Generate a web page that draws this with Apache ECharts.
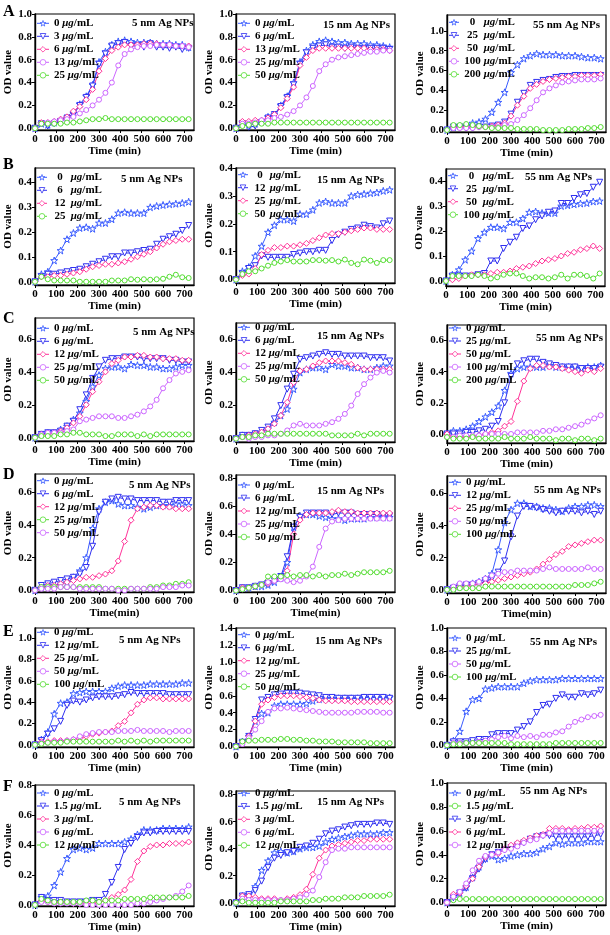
<!DOCTYPE html>
<html><head><meta charset="utf-8">
<script src="https://cdn.jsdelivr.net/npm/echarts@6/dist/echarts.min.js"></script>
<style>html,body{margin:0;padding:0;background:#fff}#c{width:610px;height:935px}</style>
</head><body><div id="c"></div>
<script>
const TIME = [0,30,60,90,120,150,180,210,240,270,300,330,360,390,420,450,480,510,540,570,600,630,660,690,720];
const X_TICKS = [0,100,200,300,400,500,600,700];
const Y_T10 = [0,0.2,0.4,0.6,0.8,1.0];
const Y_T04 = [0,0.1,0.2,0.3,0.4];
const Y_T06 = [0,0.2,0.4,0.6];
const Y_T08 = [0,0.2,0.4,0.6,0.8];
const Y_T14 = [0,0.2,0.4,0.6,0.8,1.0,1.2,1.4];

const A1_0 = [0,0.04,0.03,0.05,0.07,0.09,0.13,0.21,0.28,0.38,0.58,0.67,0.73,0.76,0.77,0.76,0.75,0.75,0.75,0.74,0.74,0.74,0.73,0.73,0.71];
const A1_3 = [0,0.04,0.02,0.04,0.06,0.09,0.12,0.2,0.27,0.37,0.56,0.65,0.72,0.74,0.75,0.72,0.72,0.71,0.74,0.71,0.71,0.7,0.71,0.69,0.7];
const A1_6 = [0,0.05,0.05,0.06,0.08,0.1,0.15,0.19,0.25,0.34,0.5,0.61,0.68,0.71,0.73,0.73,0.73,0.74,0.74,0.74,0.73,0.73,0.72,0.72,0.72];
const A1_13 = [0,0.04,0.05,0.06,0.07,0.08,0.1,0.13,0.16,0.2,0.25,0.31,0.4,0.55,0.65,0.69,0.71,0.72,0.72,0.73,0.73,0.73,0.72,0.72,0.71];
const A1_25 = [0,0.04,0.04,0.04,0.04,0.05,0.05,0.06,0.07,0.08,0.08,0.09,0.08,0.08,0.08,0.08,0.08,0.08,0.08,0.08,0.08,0.08,0.08,0.08,0.08];

const A2_0 = [0,0.05,0.03,0.04,0.06,0.1,0.12,0.2,0.28,0.4,0.58,0.68,0.73,0.76,0.77,0.76,0.75,0.75,0.74,0.74,0.74,0.73,0.73,0.72,0.71];
const A2_6 = [0,0.04,0.01,0.02,0.05,0.09,0.12,0.19,0.27,0.38,0.56,0.66,0.7,0.72,0.73,0.71,0.71,0.7,0.71,0.7,0.7,0.7,0.7,0.7,0.69];
const A2_13 = [0,0.06,0.06,0.07,0.07,0.09,0.12,0.18,0.26,0.36,0.55,0.62,0.68,0.7,0.7,0.7,0.7,0.7,0.7,0.7,0.7,0.69,0.69,0.69,0.68];
const A2_25 = [0,0.04,0.04,0.05,0.07,0.07,0.09,0.1,0.12,0.15,0.2,0.27,0.37,0.5,0.56,0.6,0.62,0.63,0.64,0.65,0.66,0.67,0.67,0.68,0.68];
const A2_50 = [0,0.02,0.03,0.04,0.04,0.04,0.05,0.05,0.05,0.05,0.05,0.05,0.05,0.05,0.05,0.05,0.05,0.05,0.05,0.05,0.05,0.05,0.05,0.05,0.05];

const A3_0 = [0,0.03,0.04,0.05,0.07,0.08,0.11,0.18,0.28,0.38,0.58,0.66,0.72,0.75,0.77,0.76,0.76,0.76,0.75,0.75,0.75,0.74,0.73,0.73,0.72];
const A3_25 = [0,0.03,0.03,0.02,0.02,0.03,0.03,0.04,0.05,0.08,0.16,0.28,0.37,0.45,0.48,0.5,0.51,0.53,0.54,0.54,0.55,0.55,0.55,0.55,0.55];
const A3_50 = [0,0.03,0.03,0.03,0.03,0.03,0.03,0.04,0.05,0.07,0.14,0.25,0.34,0.42,0.46,0.49,0.51,0.52,0.53,0.54,0.54,0.55,0.55,0.55,0.56];
const A3_100 = [0,0.02,0.02,0.02,0.02,0.03,0.03,0.03,0.03,0.05,0.06,0.1,0.15,0.22,0.3,0.38,0.42,0.45,0.48,0.49,0.5,0.51,0.51,0.51,0.52];
const A3_200 = [0,0.05,0.05,0.06,0.05,0.04,0.03,0.02,0.02,0.02,0.02,0.01,0.01,0.01,0.01,0,0,0,0,0.01,0.01,0.01,0.02,0.02,0.03];

const B1_0 = [0,0.03,0.04,0.085,0.125,0.17,0.195,0.215,0.218,0.212,0.235,0.235,0.25,0.275,0.278,0.275,0.275,0.275,0.298,0.303,0.307,0.31,0.312,0.315,0.32];
const B1_6 = [0,0.02,0.03,0.03,0.035,0.04,0.045,0.05,0.06,0.07,0.08,0.09,0.1,0.1,0.115,0.115,0.12,0.125,0.13,0.15,0.17,0.18,0.19,0.205,0.225];
const B1_12 = [0,0.02,0.02,0.025,0.025,0.03,0.035,0.04,0.05,0.06,0.065,0.07,0.07,0.075,0.08,0.09,0.1,0.11,0.12,0.135,0.15,0.16,0.165,0.17,0.17];
const B1_25 = [0,0.02,0.01,0.005,0.005,0.005,0.005,0,0,0,0,0,0.005,0.005,0.005,0.01,0.008,0.01,0.008,0.01,0.012,0.02,0.028,0.018,0.015];

const B2_0 = [0,0.03,0.045,0.085,0.12,0.17,0.195,0.215,0.215,0.21,0.235,0.235,0.25,0.275,0.28,0.275,0.275,0.275,0.3,0.305,0.307,0.31,0.312,0.318,0.322];
const B2_12 = [0,0.02,0.04,0.05,0.085,0.08,0.08,0.08,0.08,0.09,0.095,0.1,0.1,0.105,0.105,0.14,0.16,0.17,0.18,0.185,0.195,0.19,0.185,0.2,0.21];
const B2_25 = [0,0.015,0.02,0.04,0.09,0.105,0.115,0.115,0.12,0.12,0.125,0.13,0.14,0.15,0.16,0.165,0.165,0.17,0.175,0.18,0.185,0.185,0.18,0.18,0.18];
const B2_50 = [0,0.02,0.03,0.03,0.04,0.05,0.06,0.065,0.07,0.065,0.065,0.065,0.07,0.07,0.068,0.07,0.065,0.072,0.06,0.055,0.072,0.068,0.06,0.07,0.07];

const B3_0 = [0,0.025,0.045,0.085,0.12,0.17,0.195,0.215,0.215,0.21,0.235,0.235,0.25,0.275,0.278,0.272,0.272,0.272,0.3,0.303,0.307,0.31,0.312,0.318,0.32];
const B3_25 = [0,0.02,0.02,0.02,0.02,0.025,0.03,0.08,0.08,0.13,0.155,0.175,0.21,0.22,0.245,0.26,0.275,0.28,0.31,0.31,0.33,0.345,0.35,0.375,0.395];
const B3_50 = [0,0.005,0.01,0.02,0.025,0.025,0.025,0.03,0.035,0.035,0.04,0.05,0.055,0.06,0.07,0.08,0.085,0.09,0.1,0.11,0.115,0.125,0.13,0.14,0.13];
const B3_100 = [0,0.02,0.02,0.02,0.02,0.025,0.02,0.01,0.015,0.025,0.03,0.03,0.02,0.01,0.015,0.015,0.01,0.015,0.025,0.01,0.025,0.025,0.02,0.01,0.03];

const C1_0 = [0,0.02,0.03,0.03,0.05,0.07,0.11,0.15,0.22,0.31,0.38,0.42,0.43,0.43,0.42,0.445,0.44,0.44,0.43,0.43,0.42,0.42,0.43,0.44,0.44];
const C1_6 = [0,0.02,0.03,0.03,0.04,0.07,0.1,0.17,0.26,0.36,0.43,0.47,0.48,0.48,0.49,0.49,0.49,0.48,0.48,0.48,0.48,0.47,0.47,0.46,0.46];
const C1_12 = [0,0.02,0.02,0.03,0.04,0.06,0.09,0.13,0.2,0.28,0.34,0.4,0.45,0.47,0.49,0.49,0.5,0.5,0.49,0.49,0.48,0.48,0.48,0.47,0.47];
const C1_25 = [0,0.02,0.03,0.03,0.03,0.04,0.05,0.1,0.11,0.12,0.13,0.13,0.13,0.12,0.12,0.13,0.14,0.16,0.19,0.23,0.3,0.35,0.39,0.4,0.41];
const C1_50 = [0,0.01,0.01,0.01,0.02,0.02,0.03,0.03,0.02,0.02,0.02,0.01,0.01,0.02,0.02,0.02,0.01,0.02,0.01,0.02,0.02,0.02,0.02,0.02,0.02];

const C2_0 = [0,0.02,0.02,0.03,0.04,0.06,0.1,0.14,0.18,0.3,0.4,0.42,0.43,0.43,0.42,0.45,0.44,0.44,0.43,0.43,0.42,0.42,0.43,0.44,0.44];
const C2_6 = [0,0.02,0.02,0.03,0.05,0.07,0.12,0.2,0.3,0.39,0.48,0.49,0.5,0.51,0.52,0.51,0.51,0.5,0.5,0.5,0.5,0.49,0.49,0.49,0.47];
const C2_12 = [0,0.01,0.02,0.03,0.04,0.06,0.09,0.14,0.22,0.34,0.41,0.42,0.44,0.46,0.47,0.47,0.47,0.46,0.45,0.43,0.42,0.42,0.42,0.42,0.42];
const C2_25 = [0,0.01,0,0.01,0.01,0.02,0.02,0.03,0.05,0.08,0.09,0.08,0.08,0.08,0.09,0.1,0.12,0.15,0.2,0.27,0.33,0.37,0.4,0.41,0.4];
const C2_50 = [0,0.01,0.01,0.02,0.02,0.03,0.03,0.03,0.03,0.03,0.03,0.03,0.03,0.03,0.03,0.02,0.02,0.02,0.02,0.03,0.02,0.03,0.03,0.03,0.03];

const C3_0 = [0,0.02,0.02,0.03,0.05,0.08,0.11,0.14,0.18,0.28,0.39,0.42,0.43,0.43,0.43,0.43,0.44,0.43,0.43,0.43,0.43,0.42,0.43,0.43,0.44];
const C3_25 = [0,0,0,0.01,0.01,0.02,0.03,0.05,0.08,0.2,0.37,0.45,0.47,0.48,0.48,0.46,0.45,0.44,0.43,0.43,0.43,0.42,0.42,0.42,0.43];
const C3_50 = [0,-0.02,-0.02,-0.02,-0.015,-0.01,0,0.01,0.02,0.05,0.08,0.21,0.34,0.42,0.44,0.44,0.43,0.43,0.42,0.41,0.4,0.39,0.41,0.4,0.42];
const C3_100 = [-0.02,-0.02,-0.01,-0.01,-0.01,-0.01,0,0,0,0,0,0.01,0.01,0.01,0.01,0.02,0.02,0.03,0.03,0.04,0.05,0.06,0.08,0.1,0.12];
const C3_200 = [-0.02,-0.03,-0.03,-0.03,-0.02,-0.03,-0.03,-0.03,-0.03,-0.02,-0.03,-0.03,-0.03,-0.02,-0.03,-0.03,-0.03,-0.04,-0.03,-0.03,-0.04,-0.03,-0.03,-0.04,-0.03];

const D1_0 = [0,0.02,0.03,0.03,0.04,0.05,0.08,0.12,0.2,0.38,0.5,0.54,0.55,0.53,0.52,0.52,0.51,0.5,0.51,0.52,0.52,0.52,0.53,0.53,0.52];
const D1_6 = [0,0.03,0.04,0.05,0.06,0.07,0.08,0.1,0.14,0.27,0.48,0.54,0.56,0.57,0.56,0.56,0.55,0.55,0.55,0.55,0.54,0.54,0.55,0.55,0.55];
const D1_12 = [0,0.02,0.03,0.03,0.04,0.05,0.06,0.07,0.08,0.08,0.09,0.1,0.12,0.18,0.3,0.43,0.5,0.51,0.52,0.52,0.51,0.51,0.5,0.5,0.5];
const D1_25 = [0,0.02,0.02,0.02,0.02,0.02,0.02,0.02,0.02,0.02,0.02,0.01,0.01,0.01,0.01,0.01,0.01,0.01,0.02,0.02,0.03,0.03,0.04,0.04,0.05];
const D1_50 = [0,0.01,0.01,0.01,0.02,0.02,0.02,0.01,0.01,0.01,0.01,0.01,0.01,0,0,0.01,0.01,0.01,0.01,0.01,0.02,0.02,0.02,0.03,0.03];

const D2_0 = [0,0.02,0.02,0.03,0.03,0.04,0.06,0.09,0.2,0.45,0.53,0.54,0.54,0.53,0.52,0.51,0.51,0.5,0.51,0.51,0.51,0.52,0.52,0.52,0.52];
const D2_6 = [0,0.02,0.02,0.03,0.04,0.05,0.07,0.1,0.24,0.45,0.52,0.55,0.55,0.55,0.55,0.54,0.55,0.55,0.55,0.54,0.54,0.54,0.54,0.53,0.53];
const D2_12 = [0,0.02,0.02,0.03,0.04,0.05,0.07,0.09,0.14,0.4,0.5,0.54,0.55,0.55,0.55,0.56,0.57,0.56,0.56,0.55,0.55,0.55,0.55,0.55,0.55];
const D2_25 = [0,0.01,0.02,0.03,0.04,0.06,0.07,0.08,0.07,0.06,0.07,0.1,0.17,0.31,0.44,0.49,0.5,0.51,0.51,0.51,0.51,0.51,0.51,0.51,0.51];
const D2_50 = [0,0.01,0.02,0.03,0.04,0.1,0.1,0.1,0.11,0.1,0.11,0.11,0.1,0.11,0.1,0.11,0.11,0.12,0.11,0.12,0.13,0.13,0.13,0.13,0.14];

const D3_0 = [0,0.01,0.02,0.03,0.04,0.05,0.07,0.1,0.25,0.42,0.5,0.54,0.54,0.52,0.52,0.51,0.51,0.5,0.49,0.51,0.52,0.52,0.53,0.53,0.52];
const D3_12 = [0,0.01,0.02,0.03,0.03,0.04,0.05,0.07,0.11,0.18,0.33,0.46,0.52,0.52,0.51,0.5,0.49,0.48,0.49,0.49,0.49,0.48,0.49,0.47,0.49];
const D3_25 = [0,0.01,0.02,0.02,0.03,0.04,0.04,0.05,0.06,0.07,0.08,0.09,0.1,0.11,0.13,0.16,0.19,0.22,0.24,0.27,0.28,0.29,0.3,0.31,0.31];
const D3_50 = [0,0.02,0.04,0.04,0.04,0.05,0.07,0.09,0.1,0.11,0.11,0.12,0.12,0.12,0.12,0.13,0.14,0.13,0.13,0.13,0.13,0.13,0.14,0.13,0.13];
const D3_100 = [0,0,0.01,0.01,0.01,0.01,0.02,0.02,0.02,0.02,0.02,0.02,0.02,0.02,0.02,0.02,0.02,0.02,0.02,0.02,0.03,0.03,0.03,0.04,0.05];

const E1_0 = [0,0.05,0.12,0.29,0.39,0.4,0.48,0.49,0.5,0.5,0.5,0.5,0.53,0.55,0.56,0.56,0.56,0.56,0.57,0.57,0.57,0.57,0.57,0.58,0.58];
const E1_12 = [0,0.04,0.1,0.15,0.22,0.37,0.41,0.4,0.42,0.44,0.45,0.45,0.45,0.46,0.47,0.49,0.48,0.48,0.48,0.48,0.48,0.47,0.47,0.47,0.47];
const E1_25 = [0,0.03,0.03,0.04,0.04,0.04,0.05,0.06,0.08,0.1,0.11,0.12,0.13,0.18,0.22,0.3,0.38,0.42,0.44,0.44,0.43,0.43,0.43,0.43,0.43];
const E1_50 = [0,0.02,0.02,0.03,0.03,0.04,0.05,0.08,0.1,0.11,0.12,0.12,0.12,0.13,0.13,0.13,0.14,0.13,0.13,0.13,0.13,0.12,0.13,0.13,0.13];
const E1_100 = [0,0.01,0.02,0.02,0.02,0.03,0.03,0.03,0.03,0.03,0.03,0.03,0.03,0.04,0.03,0.04,0.03,0.04,0.03,0.04,0.04,0.04,0.04,0.04,0.04];

const E2_0 = [0,0.06,0.12,0.3,0.39,0.4,0.48,0.5,0.5,0.5,0.5,0.51,0.54,0.56,0.57,0.57,0.57,0.57,0.57,0.57,0.58,0.58,0.58,0.58,0.58];
const E2_6 = [0,0.05,0.12,0.32,0.55,0.58,0.61,0.62,0.63,0.63,0.63,0.62,0.61,0.6,0.58,0.58,0.57,0.57,0.57,0.57,0.58,0.58,0.58,0.58,0.57];
const E2_12 = [0,0.05,0.12,0.3,0.5,0.55,0.58,0.6,0.6,0.6,0.59,0.58,0.57,0.55,0.54,0.54,0.54,0.54,0.53,0.53,0.53,0.53,0.53,0.53,0.53];
const E2_25 = [0,0.03,0.1,0.2,0.3,0.41,0.45,0.45,0.46,0.45,0.44,0.43,0.42,0.41,0.4,0.4,0.4,0.4,0.4,0.41,0.41,0.41,0.41,0.4,0.4];
const E2_50 = [0,0.06,0.07,0.07,0.08,0.08,0.08,0.09,0.09,0.08,0.08,0.07,0.07,0.06,0.06,0.06,0.05,0.05,0.05,0.05,0.05,0.04,0.04,0.04,0.04];

const E3_0 = [0,0.04,0.12,0.29,0.39,0.4,0.48,0.49,0.5,0.5,0.5,0.5,0.53,0.55,0.56,0.56,0.56,0.56,0.57,0.57,0.57,0.57,0.57,0.57,0.57];
const E3_25 = [0,0.03,0.03,0.03,0.04,0.05,0.05,0.09,0.1,0.1,0.1,0.13,0.16,0.2,0.28,0.34,0.35,0.4,0.43,0.41,0.41,0.44,0.43,0.44,0.47];
const E3_50 = [0,0.02,0.02,0.02,0.02,0.03,0.04,0.05,0.07,0.08,0.06,0.08,0.07,0.08,0.07,0.09,0.09,0.11,0.12,0.16,0.2,0.22,0.24,0.25,0.26];
const E3_100 = [0,0.01,0.01,0.02,0.02,0.02,0.02,0.02,0.02,0.02,0.01,0.01,0.01,0.01,0.01,0.01,0.01,0.02,0.02,0.02,0.02,0.02,0.02,0.02,0.02];

const F1_0 = [0,0.05,0.06,0.13,0.22,0.31,0.37,0.38,0.37,0.38,0.41,0.41,0.41,0.41,0.42,0.44,0.47,0.5,0.5,0.5,0.51,0.51,0.51,0.51,0.52];
const F1_1 = [0,0.05,0.03,0.03,0.03,0.02,0.02,0.02,0.02,0.03,0.03,0.07,0.15,0.25,0.37,0.41,0.45,0.48,0.48,0.49,0.49,0.49,0.49,0.49,0.49];
const F1_3 = [0,0.03,0.02,0.02,0.02,0.02,0.01,0.01,0.01,0.01,0.02,0.03,0.05,0.07,0.1,0.17,0.29,0.36,0.39,0.4,0.4,0.41,0.41,0.41,0.42];
const F1_6 = [0,0.02,0.02,0.01,0.01,0.01,0.01,0.01,0,0,0,0,0,0,0,0,0.01,0.01,0.02,0.03,0.04,0.05,0.06,0.09,0.13];
const F1_12 = [0,0.04,0.03,0.02,0.02,0.02,0.02,0.02,0.03,0.03,0.02,0.03,0.03,0.03,0.04,0.04,0.04,0.04,0.05,0.05,0.05,0.05,0.05,0.05,0.06];

const F2_0 = [0,0.05,0.06,0.12,0.24,0.31,0.37,0.38,0.37,0.38,0.4,0.41,0.41,0.42,0.45,0.47,0.48,0.49,0.5,0.51,0.51,0.51,0.51,0.52,0.52];
const F2_1 = [0,0.05,0.06,0.09,0.16,0.26,0.33,0.35,0.37,0.38,0.41,0.42,0.44,0.47,0.51,0.53,0.54,0.56,0.57,0.58,0.58,0.58,0.59,0.59,0.58];
const F2_3 = [0,0.05,0.05,0.04,0.03,0.03,0.03,0.02,0.03,0.04,0.06,0.1,0.21,0.33,0.39,0.42,0.43,0.44,0.45,0.46,0.46,0.47,0.47,0.47,0.47];
const F2_6 = [0,0.03,0.02,0.02,0.02,0.02,0.02,0.02,0.02,0.03,0.04,0.06,0.09,0.19,0.3,0.39,0.4,0.4,0.41,0.41,0.41,0.41,0.41,0.41,0.41];
const F2_12 = [0,0.01,0,0,0,0,0,0.01,0.01,0.01,0.01,0.01,0.02,0.02,0.03,0.03,0.03,0.04,0.04,0.04,0.05,0.05,0.05,0.05,0.06];

const F3_0 = [0,0.04,0.08,0.13,0.21,0.3,0.37,0.39,0.36,0.37,0.39,0.4,0.41,0.41,0.42,0.45,0.47,0.5,0.49,0.5,0.5,0.5,0.51,0.51,0.51];
const F3_1 = [0,0.02,0.03,0.03,0.03,0.03,0.03,0.03,0.03,0.03,0.03,0.03,0.03,0.03,0.03,0.03,0.03,0.03,0.03,0.03,0.03,0.03,0.03,0.03,0.03];
const F3_3 = [0,0.04,0.08,0.12,0.2,0.28,0.36,0.4,0.42,0.44,0.46,0.48,0.5,0.53,0.55,0.56,0.56,0.55,0.55,0.55,0.55,0.55,0.55,0.56,0.57];
const F3_6 = [0,0.07,0.08,0.14,0.2,0.3,0.38,0.4,0.41,0.45,0.48,0.5,0.52,0.54,0.56,0.57,0.62,0.62,0.62,0.61,0.62,0.62,0.63,0.63,0.64];
const F3_12 = [0,0.05,0.09,0.16,0.27,0.35,0.39,0.4,0.42,0.44,0.45,0.47,0.5,0.52,0.53,0.56,0.58,0.6,0.6,0.6,0.6,0.6,0.6,0.6,0.6];

const FONT = '"Liberation Serif","Times New Roman",serif';
const STAR = 'path://M50,2 L61,36 L97,36 L68,57 L79,92 L50,71 L21,92 L32,57 L3,36 L39,36 Z';
const STYLES = {
  star: {color:'#3a5cff', symbol:STAR, size:7, rotate:0},
  tri:  {color:'#3030f0', symbol:'triangle', size:6, rotate:180},
  dia:  {color:'#ff3399', symbol:'diamond', size:6, rotate:0},
  vio:  {color:'#cc66ff', symbol:'circle', size:5, rotate:0},
  grn:  {color:'#55dd33', symbol:'circle', size:5, rotate:0}
};
const T = 'Time (min)', T2 = 'Time(min)';
// rect = [left, top, right, bottom]; tp = title [x, centerY]; lt = first legend item centerY; nw = number column width
const PANELS = [
 {key:'A1', rect:[35,14,194,130], y:[-0.015,1.0], ticks:Y_T10, title:'5 nm Ag NPs', tp:[132,24.5], lt:24.3, nw:0, xn:T,
  items:[['0','star',A1_0],['3','tri',A1_3],['6','dia',A1_6],['13','vio',A1_13],['25','grn',A1_25]]},
 {key:'A2', rect:[236,14,395,130], y:[-0.015,1.0], ticks:Y_T10, title:'15 nm Ag NPs', tp:[323,26.5], lt:24.3, nw:0, xn:T,
  items:[['0','star',A2_0],['6','tri',A2_6],['13','dia',A2_13],['25','vio',A2_25],['50','grn',A2_50]]},
 {key:'A3', rect:[447,15,606,132], y:[-0.02,1.16], ticks:Y_T10, title:'55 nm Ag NPs', tp:[533,26.5], lt:23.3, nw:17, xn:T,
  items:[['0','star',A3_0],['25','tri',A3_25],['50','dia',A3_50],['100','vio',A3_100],['200','grn',A3_200]]},
 {key:'B1', rect:[35,168,194,285], y:[-0.013,0.455], ticks:Y_T04, title:'5 nm Ag NPs', tp:[121,180], lt:178.3, nw:16, xn:T,
  items:[['0','star',B1_0],['6','tri',B1_6],['12','dia',B1_12],['25','grn',B1_25]]},
 {key:'B2', rect:[236,168,395,283], y:[-0.012,0.4], ticks:Y_T04, title:'15 nm Ag NPs', tp:[317,181], lt:175.7, nw:14, xn:T,
  items:[['0','star',B2_0],['12','tri',B2_12],['25','dia',B2_25],['50','grn',B2_50]]},
 {key:'B3', rect:[446,169,605,286], y:[-0.02,0.448], ticks:Y_T04, title:'55 nm Ag NPs', tp:[525,178.3], lt:176.7, nw:17, xn:T,
  items:[['0','star',B3_0],['25','tri',B3_25],['50','dia',B3_50],['100','grn',B3_100]]},
 {key:'C1', rect:[35,318,194,441], y:[-0.02,0.727], ticks:Y_T06, title:'5 nm Ag NPs', tp:[133,333.3], lt:329.3, nw:0, xn:T,
  items:[['0','star',C1_0],['6','tri',C1_6],['12','dia',C1_12],['25','vio',C1_25],['50','grn',C1_50]]},
 {key:'C2', rect:[236,323,395,442], y:[-0.02,0.70], ticks:Y_T06, title:'15 nm Ag NPs', tp:[317,337], lt:328.3, nw:0, xn:T,
  items:[['0','star',C2_0],['6','tri',C2_6],['12','dia',C2_12],['25','vio',C2_25],['50','grn',C2_50]]},
 {key:'C3', rect:[447,325,606,443], y:[-0.058,0.70], ticks:Y_T06, title:'55 nm Ag NPs', tp:[536,339], lt:329, nw:0, xn:T,
  items:[['0','star',C3_0],['25','tri',C3_25],['50','dia',C3_50],['100','vio',C3_100],['200','grn',C3_200]]},
 {key:'D1', rect:[35,474,194,592], y:[-0.01,0.713], ticks:Y_T06, title:'5 nm Ag NPs', tp:[129,486], lt:481.7, nw:0, xn:T2,
  items:[['0','star',D1_0],['6','tri',D1_6],['12','dia',D1_12],['25','grn',D1_25],['50','vio',D1_50]]},
 {key:'D2', rect:[236,475,395,592], y:[-0.01,0.82], ticks:Y_T08, title:'15 nm Ag NPs', tp:[317,492], lt:486, nw:0, xn:T2,
  items:[['0','star',D2_0],['6','tri',D2_6],['12','dia',D2_12],['25','vio',D2_25],['50','grn',D2_50]]},
 {key:'D3', rect:[447,476,606,593], y:[-0.02,0.71], ticks:Y_T06, title:'55 nm Ag NPs', tp:[534,491], lt:483.3, nw:0, xn:T2,
  items:[['0','star',D3_0],['12','tri',D3_12],['25','dia',D3_25],['50','vio',D3_50],['100','grn',D3_100]]},
 {key:'E1', rect:[35,628,194,747], y:[-0.02,1.094], ticks:Y_T10, title:'5 nm Ag NPs', tp:[119,641], lt:633.3, nw:0, xn:T,
  items:[['0','star',E1_0],['12','tri',E1_12],['25','dia',E1_25],['50','vio',E1_50],['100','grn',E1_100]]},
 {key:'E2', rect:[236,628,395,747], y:[-0.005,1.4], ticks:Y_T14, title:'15 nm Ag NPs', tp:[315,642], lt:635.7, nw:0, xn:T,
  items:[['0','star',E2_0],['6','tri',E2_6],['12','dia',E2_12],['25','vio',E2_25],['50','grn',E2_50]]},
 {key:'E3', rect:[447,628,606,747], y:[-0.014,1.0], ticks:Y_T10, title:'55 nm Ag NPs', tp:[530,643], lt:639, nw:0, xn:T,
  items:[['0','star',E3_0],['25','tri',E3_25],['50','vio',E3_50],['100','grn',E3_100]]},
 {key:'F1', rect:[35,785,194,906], y:[-0.007,0.8], ticks:Y_T08, title:'5 nm Ag NPs', tp:[119,803], lt:794, nw:0, xn:T,
  items:[['0','star',F1_0],['1.5','tri',F1_1],['3','dia',F1_3],['6','vio',F1_6],['12','grn',F1_12]]},
 {key:'F2', rect:[236,791,395,906], y:[-0.024,0.827], ticks:Y_T08, title:'15 nm Ag NPs', tp:[317,803.3], lt:794.3, nw:0, xn:T,
  items:[['0','star',F2_0],['1.5','tri',F2_1],['3','dia',F2_3],['6','vio',F2_6],['12','grn',F2_12]]},
 {key:'F3', rect:[447,783,606,905], y:[-0.02,1.0], ticks:Y_T10, title:'55 nm Ag NPs', tp:[520,792], lt:794, nw:0, xn:T,
  items:[['0','star',F3_0],['1.5','grn',F3_1],['3','tri',F3_3],['6','dia',F3_6],['12','vio',F3_12]]}
];
const LETTERS = [['A',11.5],['B',165],['C',319],['D',475],['E',632],['F',787]];

const txt = (size) => ({fontFamily:FONT, fontWeight:'bold', fontSize:size, color:'#000'});
const grids = [], xAxes = [], yAxes = [], series = [], legends = [], titles = [];
PANELS.forEach((p, i) => {
  const [l, t, r, b] = p.rect;
  grids.push({left:l, top:t, width:r-l, height:b-t, show:true, borderColor:'#000', borderWidth:1.2, backgroundColor:'transparent'});
  xAxes.push({gridIndex:i, type:'value', min:0, max:745,
    axisLine:{show:true, onZero:false, lineStyle:{color:'#000', width:1.4}},
    axisTick:{show:true, length:3, inside:false, customValues:X_TICKS, lineStyle:{color:'#000', width:1}},
    axisLabel:{customValues:X_TICKS, margin:4, ...txt(11)},
    splitLine:{show:false},
    name:p.xn, nameLocation:'middle', nameGap:15, nameTextStyle:txt(11)});
  yAxes.push({gridIndex:i, type:'value', min:p.y[0], max:p.y[1],
    axisLine:{show:true, onZero:false, lineStyle:{color:'#000', width:1.4}},
    axisTick:{show:true, length:3, customValues:p.ticks, lineStyle:{color:'#000', width:1}},
    axisLabel:{customValues:p.ticks, margin:3, formatter:(v)=>v.toFixed(1), ...txt(11)},
    splitLine:{show:false},
    name:'OD value', nameLocation:'middle', nameGap:21, nameTextStyle:txt(11)});
  const names = [];
  p.items.forEach(([lab, st, vals]) => {
    const s = STYLES[st];
    const nm = p.key + '|' + lab;
    names.push(nm);
    series.push({type:'line', name:nm, xAxisIndex:i, yAxisIndex:i,
      data: TIME.map((tm, k) => [tm, vals[k]]),
      symbol:s.symbol, symbolSize:s.size, symbolRotate:s.rotate, showSymbol:true,
      lineStyle:{color:s.color, width:1},
      itemStyle:{color:'#fff', borderColor:s.color, borderWidth:1},
      emphasis:{disabled:true}, animation:false});
  });
  const rich = {
    n:{...txt(11), width:p.nw || undefined, align:'center'},
    i:{...txt(11), fontStyle:'italic'},
    u:{...txt(11)}
  };
  legends.push({data:names, orient:'vertical', left:l + 1.5, top:p.lt - 6.5, padding:0,
    itemWidth:p.nw ? 10 : 12, itemHeight:7, itemGap:2, selectedMode:false,
    itemStyle:{color:'#fff', borderColor:'inherit', borderWidth:0.8},
    lineStyle:{width:1},
    formatter:(name) => {
      const n = name.split('|')[1];
      return p.nw ? '{n|' + n + '}{u| }{i|μg}{u|/mL}' : '{u|' + n + ' }{i|μg}{u|/mL}';
    },
    textStyle:{...txt(11), rich:rich}});
  titles.push({text:p.title, left:p.tp[0], top:p.tp[1]-6.5, padding:0, textStyle:txt(11)});
});
LETTERS.forEach(([L, y]) => titles.push({text:L, left:3, top:y-8, padding:0, textStyle:txt(16)}));

const chart = echarts.init(document.getElementById('c'), null, {renderer:'canvas'});
chart.setOption({backgroundColor:'#fff', animation:false, title:titles, grid:grids, xAxis:xAxes, yAxis:yAxes, legend:legends, series:series});
</script></body></html>
